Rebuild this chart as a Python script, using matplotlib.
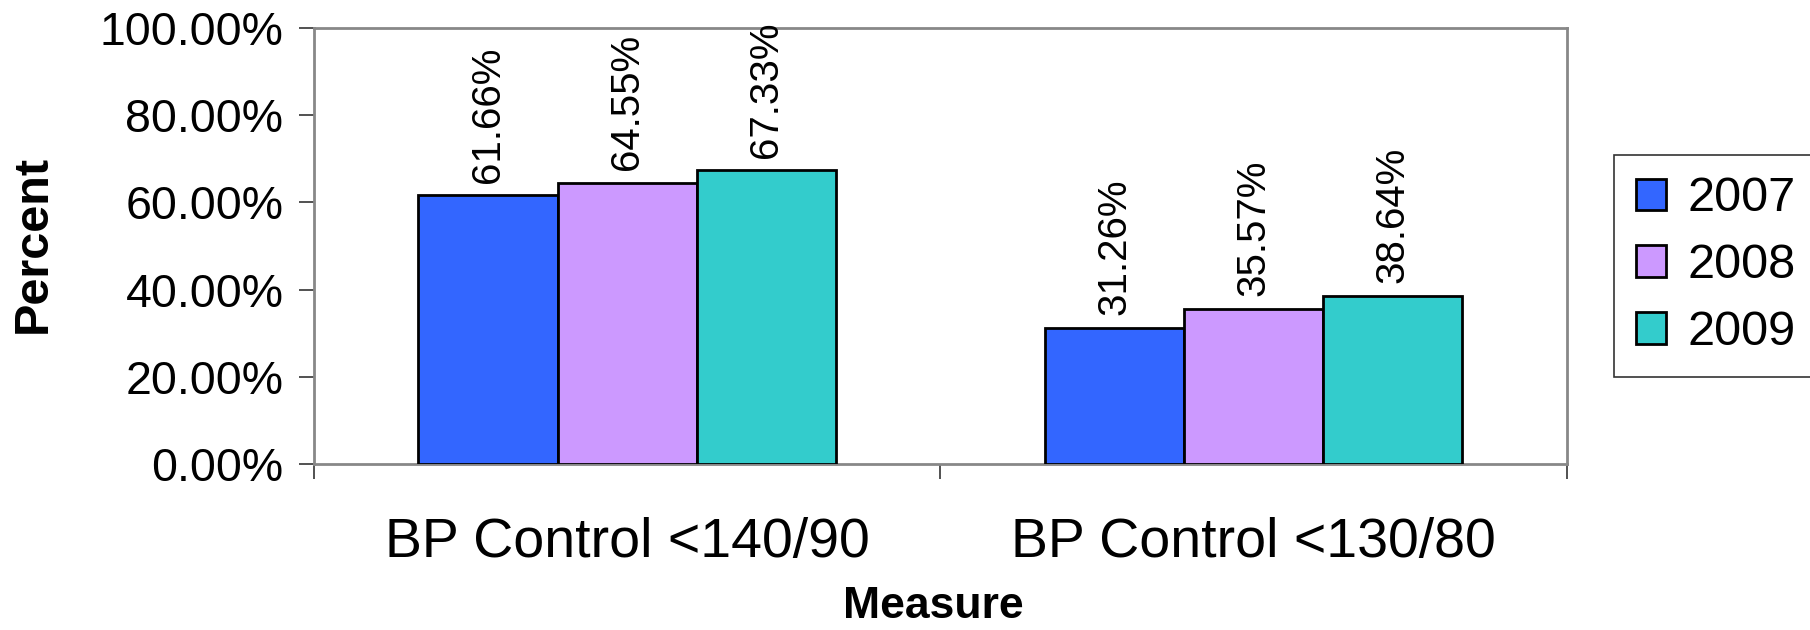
import matplotlib
matplotlib.use("Agg")
import matplotlib.pyplot as plt
import numpy as np

categories = ["BP Control <140/90", "BP Control <130/80"]
years = ["2007", "2008", "2009"]
values_2007 = [61.66, 31.26]
values_2008 = [64.55, 35.57]
values_2009 = [67.33, 38.64]
colors = ["#3366FF", "#CC99FF", "#33CCCC"]
yticks = [0, 20, 40, 60, 80, 100]

plt.rcParams['font.family'] = ['Liberation Sans', 'DejaVu Sans']

fig = plt.figure(figsize=(18.1, 6.3), dpi=100)
ax = fig.add_axes([0.1735, 0.2635, 0.6922, 0.6921])

x = np.arange(len(categories))
width = 0.2222
series = [values_2007, values_2008, values_2009]
for i, (vals, yr, c) in enumerate(zip(series, years, colors)):
    bars = ax.bar(x + (i - 1) * width, vals, width, color=c, edgecolor="black",
                  linewidth=2.0, label=yr, zorder=3)
    for b, v in zip(bars, vals):
        ax.annotate(f"{v:.2f}%", (b.get_x() + b.get_width() / 2, v),
                    xytext=(0, 9), textcoords="offset points",
                    ha="center", va="bottom", rotation=90, fontsize=29)

ax.set_xlim(-0.5, 1.5)
ax.set_ylim(0, 100)
ax.set_yticks(yticks)
ax.set_yticklabels([f"{t:.2f}%" for t in yticks], fontsize=33.5)
ax.tick_params(axis="y", length=11, width=1.2, color="#333333", pad=11)

ax.set_xticks([-0.5, 0.5, 1.5])
ax.set_xticklabels(["", "", ""])
ax.tick_params(axis="x", which="major", length=11, width=1.2, color="#333333")
ax.set_xticks(x, minor=True)
ax.set_xticklabels(categories, minor=True, fontsize=40)
ax.tick_params(axis="x", which="minor", length=0, pad=38)

for s in ax.spines.values():
    s.set_color("#888888")
    s.set_linewidth(2)

fig.text(33 / 1810, 1 - 244 / 630, "Percent", fontsize=35, fontweight="bold",
         rotation=90, ha="center", va="center")
fig.text(933 / 1810, 1 - 607 / 630, "Measure", fontsize=32, fontweight="bold",
         ha="center", va="center")

leg = fig.legend(loc="center left", bbox_to_anchor=(0.8917, 0.578), fontsize=35,
                 frameon=True, fancybox=False, edgecolor="black",
                 handlelength=0.62, handleheight=0.62, handletextpad=0.45,
                 labelspacing=0.45, borderpad=0.45, borderaxespad=0)
leg.get_frame().set_linewidth(1.2)

fig.savefig("out.png", dpi=100, facecolor="white")
